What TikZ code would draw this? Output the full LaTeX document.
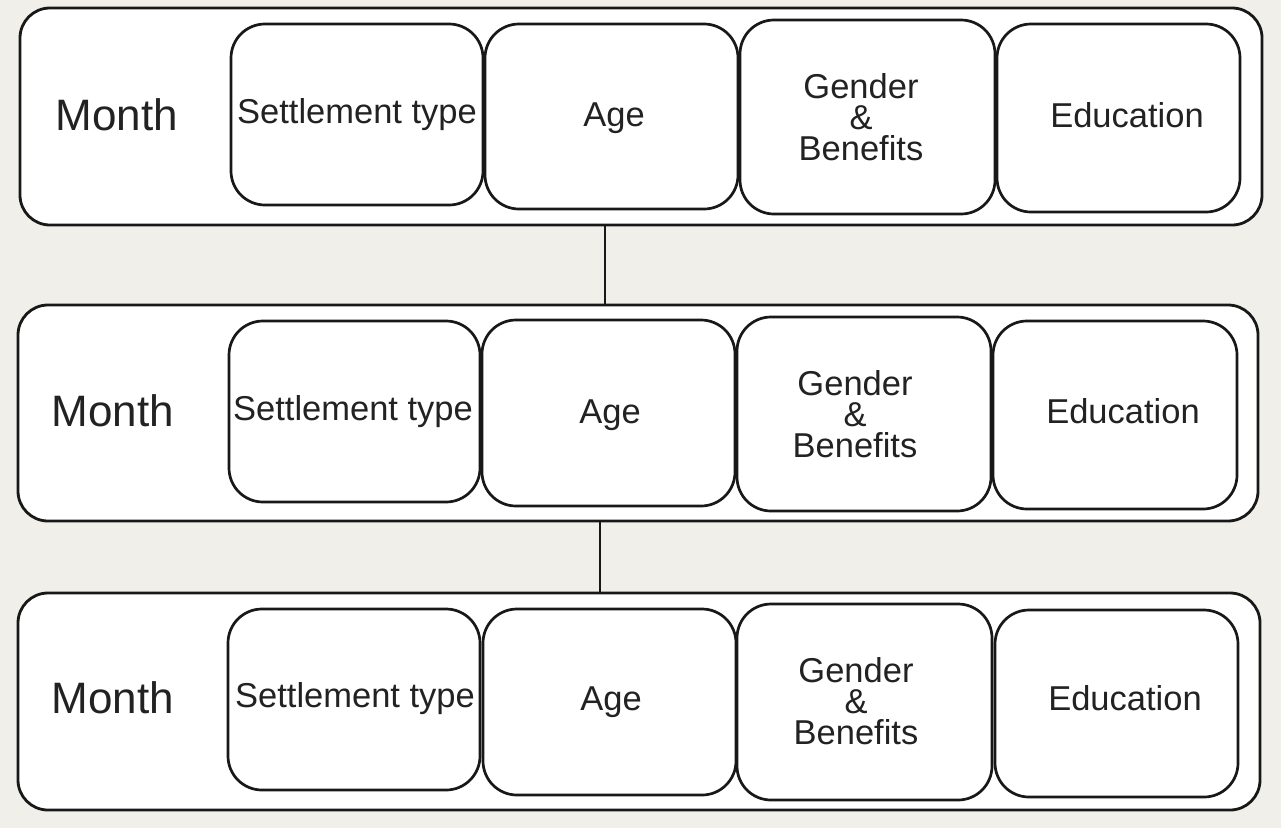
\documentclass[tikz,border=0pt]{standalone}
\usepackage{fontspec}
\setmainfont{Liberation Sans}
\definecolor{bg}{RGB}{240,239,233}
\definecolor{ink}{RGB}{24,24,24}
\definecolor{txt}{RGB}{34,34,34}
\begin{document}
\begin{tikzpicture}[x=1pt,y=-1pt,
  outerbox/.style={draw=ink, line width=2.8pt, fill=white, rounded corners=30pt, inner sep=0pt},
  cell/.style={draw=ink, line width=2.7pt, fill=white, rounded corners=34pt, inner sep=0pt},
  celltext/.style={anchor=base, align=center, inner sep=0pt, text=txt, font=\fontsize{34.5}{31}\selectfont},
  monthlbl/.style={anchor=base, font=\fontsize{44}{44}\selectfont, text=txt, inner sep=0pt},
  link/.style={draw=ink, line width=2.6pt}]
\fill[bg] (0,0) rectangle (1281,828);
\useasboundingbox (0,0) rectangle (1281,828);
% Row 1
\node[outerbox, minimum width=1242pt, minimum height=217pt] (r1) at (641,116.5) {};
\node[cell, minimum width=252pt, minimum height=181pt] (s1) at (357,114.5) {};
\node[cell, minimum width=253pt, minimum height=185pt] (a1) at (611.5,116.5) {};
\node[cell, minimum width=255pt, minimum height=194pt] (g1) at (867.5,117) {};
\node[cell, minimum width=243pt, minimum height=188pt] (e1) at (1118.5,118) {};
\node[monthlbl] (m1) at (117,130) {Month};
\node[celltext] (ts1) at (357,123) {Settlement type};
\node[celltext] (ta1) at (614,126) {Age};
\node[celltext] (tg1) at (861,160) {Gender\\\&\\Benefits};
\node[celltext] (te1) at (1127,127) {Education};
% Row 2
\node[outerbox, minimum width=1240pt, minimum height=216pt] (r2) at (638,413) {};
\node[cell, minimum width=251pt, minimum height=181pt] (s2) at (354.5,411.5) {};
\node[cell, minimum width=253pt, minimum height=186pt] (a2) at (608.5,413) {};
\node[cell, minimum width=254pt, minimum height=194pt] (g2) at (864,414) {};
\node[cell, minimum width=244pt, minimum height=188pt] (e2) at (1115,415) {};
\node[monthlbl] (m2) at (113,426) {Month};
\node[celltext] (ts2) at (353,420) {Settlement type};
\node[celltext] (ta2) at (610,423) {Age};
\node[celltext] (tg2) at (855,457) {Gender\\\&\\Benefits};
\node[celltext] (te2) at (1123,423) {Education};
% Row 3
\node[outerbox, minimum width=1242pt, minimum height=217pt] (r3) at (639,701.5) {};
\node[cell, minimum width=252pt, minimum height=181pt] (s3) at (354,699.5) {};
\node[cell, minimum width=253pt, minimum height=186pt] (a3) at (609.5,702) {};
\node[cell, minimum width=255pt, minimum height=196pt] (g3) at (864.5,702) {};
\node[cell, minimum width=243pt, minimum height=187pt] (e3) at (1116.5,703.5) {};
\node[monthlbl] (m3) at (113,713) {Month};
\node[celltext] (ts3) at (355,707) {Settlement type};
\node[celltext] (ta3) at (611,710) {Age};
\node[celltext] (tg3) at (856,744) {Gender\\\&\\Benefits};
\node[celltext] (te3) at (1125,710) {Education};
% connectors
\draw[link] ([xshift=-36pt]r1.south) -- ([xshift=-36pt]r1.south |- r2.north);
\draw[link] ([xshift=-38pt]r2.south) -- ([xshift=-38pt]r2.south |- r3.north);
\end{tikzpicture}
\end{document}
